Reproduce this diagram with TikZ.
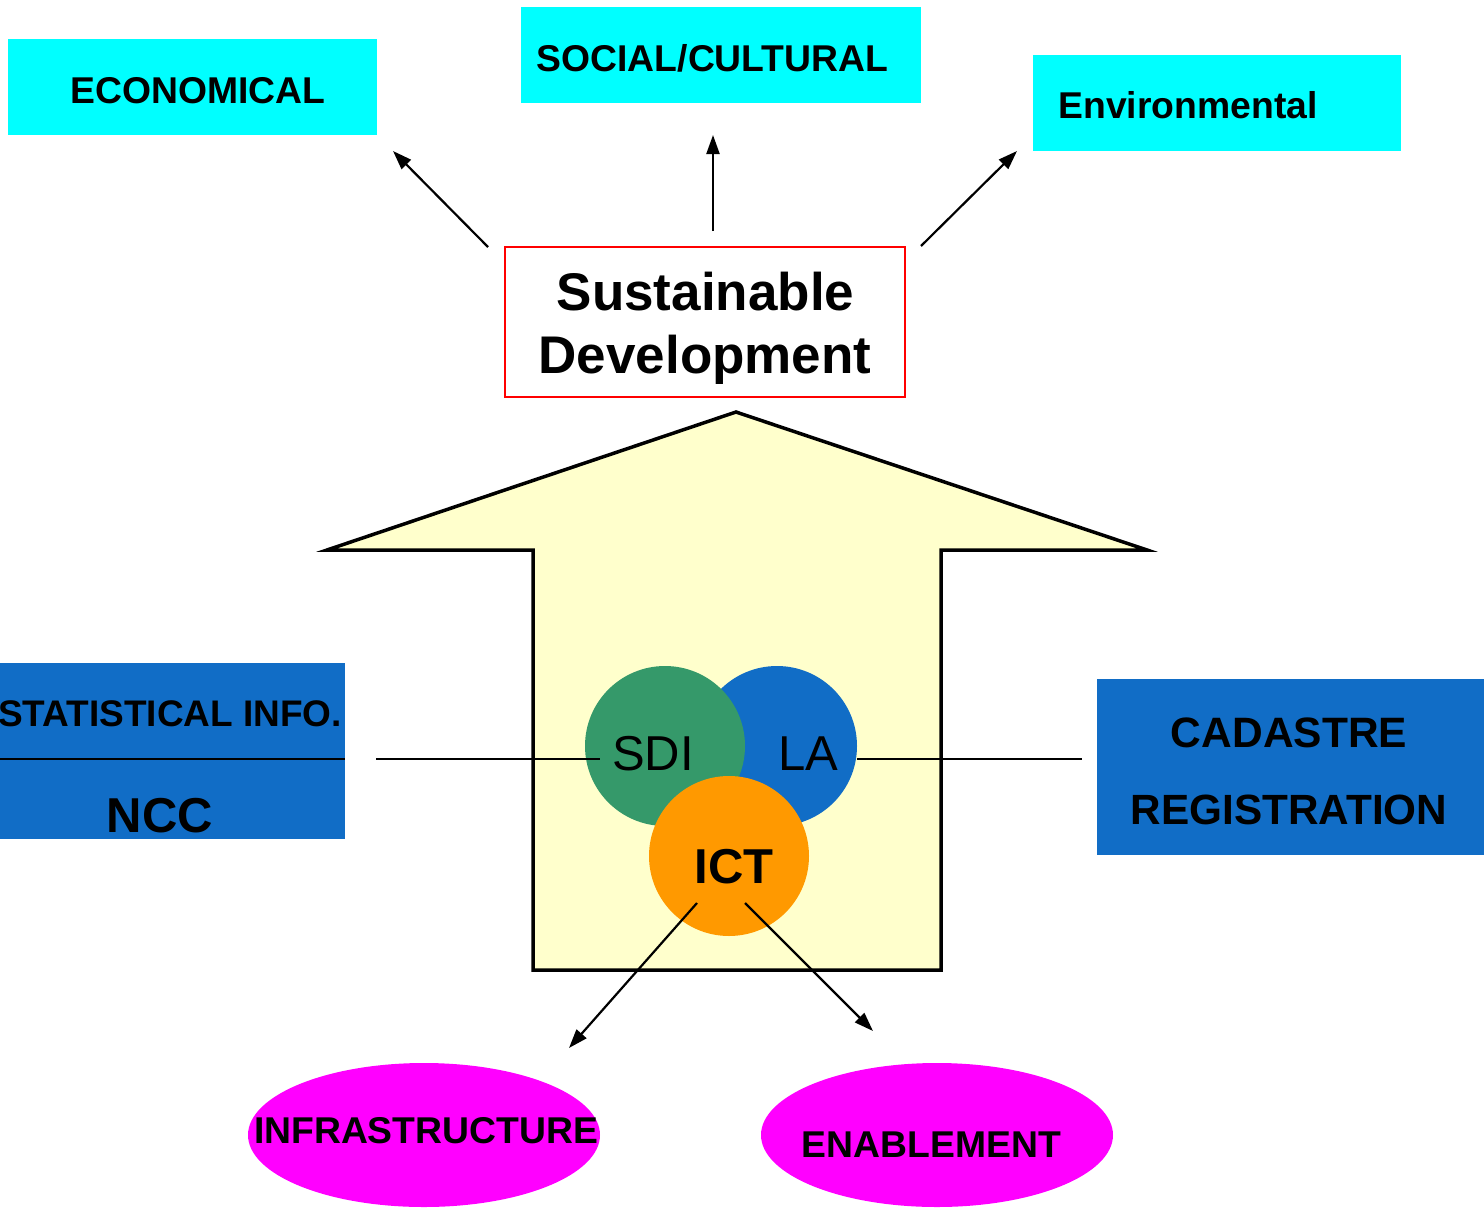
\documentclass[tikz,border=0pt]{standalone}
\usepackage{fontspec}
\setmainfont{Liberation Sans}
\usetikzlibrary{arrows.meta,shapes.geometric}
\definecolor{cyanbox}{HTML}{00FFFF}
\definecolor{bluebox}{HTML}{116DC6}
\definecolor{sdigreen}{HTML}{35996A}
\definecolor{lablue}{HTML}{116DC6}
\definecolor{ictorange}{HTML}{FF9900}
\definecolor{arrowfill}{HTML}{FFFFCC}
\definecolor{magentaell}{HTML}{FF00FF}
\tikzset{
  cyanrect/.style={fill=cyanbox, draw=none, inner sep=0pt},
  bluerect/.style={fill=bluebox, draw=none, inner sep=0pt},
  lbl/.style={font=\fontsize{#1}{#1}\selectfont\bfseries, inner sep=0pt, anchor=base},
  plainlbl/.style={font=\fontsize{#1}{#1}\selectfont, inner sep=0pt, anchor=base},
  arr/.style={-{Triangle[length=19pt,width=13pt]}, line width=2.2pt},
  conn/.style={line width=2.2pt},
  blob/.style={circle, draw=none, minimum size=160pt, inner sep=0pt},
  ell/.style={ellipse, fill=magentaell, draw=none, minimum width=352pt, minimum height=144pt, inner sep=0pt}
}
\begin{document}
\begin{tikzpicture}[x=1pt,y=-1pt]
\useasboundingbox (0,0) rectangle (1484,1208);
\fill[white] (0,0) rectangle (1484,1208);
% top boxes
\node[cyanrect, minimum width=369pt, minimum height=96pt] (econ) at (192.5,87) {};
\node[lbl=37.3] (econt) at (198,103) {ECONOMICAL};
\node[cyanrect, minimum width=400pt, minimum height=96pt] (soc) at (721,55) {};
\node[lbl=37.3] (soct) at (712.5,71) {SOCIAL/CULTURAL};
\node[cyanrect, minimum width=368pt, minimum height=96pt] (env) at (1217,103) {};
\node[lbl=37.3] (envt) at (1188,118) {Environmental};
% sustainable development
\node[draw=red, line width=2pt, fill=white, minimum width=400pt, minimum height=150pt] (sd) at (705,322) {};
\node[lbl=53] (sd1) at (705.5,310) {Sustainable};
\node[lbl=53] (sd2) at (705,373) {Development};
% arrows up
\coordinate (a1s) at (488,247); \coordinate (a1e) at (393,151);
\coordinate (a2s) at (713,231); \coordinate (a2e) at (713,135);
\coordinate (a3s) at (921,246); \coordinate (a3e) at (1017,151);
\draw[arr] (a1s) -- (a1e);
\draw[arr] (a2s) -- (a2e);
\draw[arr] (a3s) -- (a3e);
% big arrow
\draw[fill=arrowfill, line width=3.5pt, line join=miter] (736,412) -- (1147,550) -- (941,550) -- (941,970) -- (533,970) -- (533,550) -- (327,550) -- cycle;
% circles
\node[blob, fill=lablue] (la) at (777,746) {};
\node[blob, fill=sdigreen] (sdi) at (665,746) {};
\node[blob, fill=ictorange] (ict) at (729,856) {};
\node[plainlbl=49] (sdit) at (653,770) {SDI};
\node[plainlbl=49] (lat) at (808,770) {LA};
\node[lbl=49] (ictt) at (734,883) {ICT};
% left box
\node[bluerect, minimum width=345pt, minimum height=176pt] (lbox) at (172.5,751) {};
\draw[conn] (lbox.west |- 0,759) coordinate (lbl1) -- (lbox.east |- 0,759) coordinate (lbl2);
\node[lbl=37] (stat) at (170,726) {STATISTICAL INFO.};
\node[lbl=49] (ncc) at (160,832) {NCC};
% right box
\node[bluerect, minimum width=387pt, minimum height=176pt] (rbox) at (1290.5,767) {};
\node[lbl=42.5] (cad) at (1289,747) {CADASTRE};
\node[lbl=42.3] (reg) at (1289,824) {REGISTRATION};
% horizontal connectors
\coordinate (l1s) at (376,759); \coordinate (l1e) at (600,759);
\coordinate (l2s) at (857,759); \coordinate (l2e) at (1082,759);
\draw[conn] (l1s) -- (l1e);
\draw[conn] (l2s) -- (l2e);
% ICT arrows
\coordinate (b1s) at (697,903); \coordinate (b1e) at (569,1048);
\coordinate (b2s) at (745,903); \coordinate (b2e) at (873,1031);
\draw[arr] (b1s) -- (b1e);
\draw[arr] (b2s) -- (b2e);
% ellipses
\node[ell] (infra) at (424,1135) {};
\node[lbl=37.3] (infrat) at (426,1143) {INFRASTRUCTURE};
\node[ell] (enab) at (937,1135) {};
\node[lbl=37.3] (enabt) at (931.5,1157) {ENABLEMENT};
\end{tikzpicture}
\end{document}
